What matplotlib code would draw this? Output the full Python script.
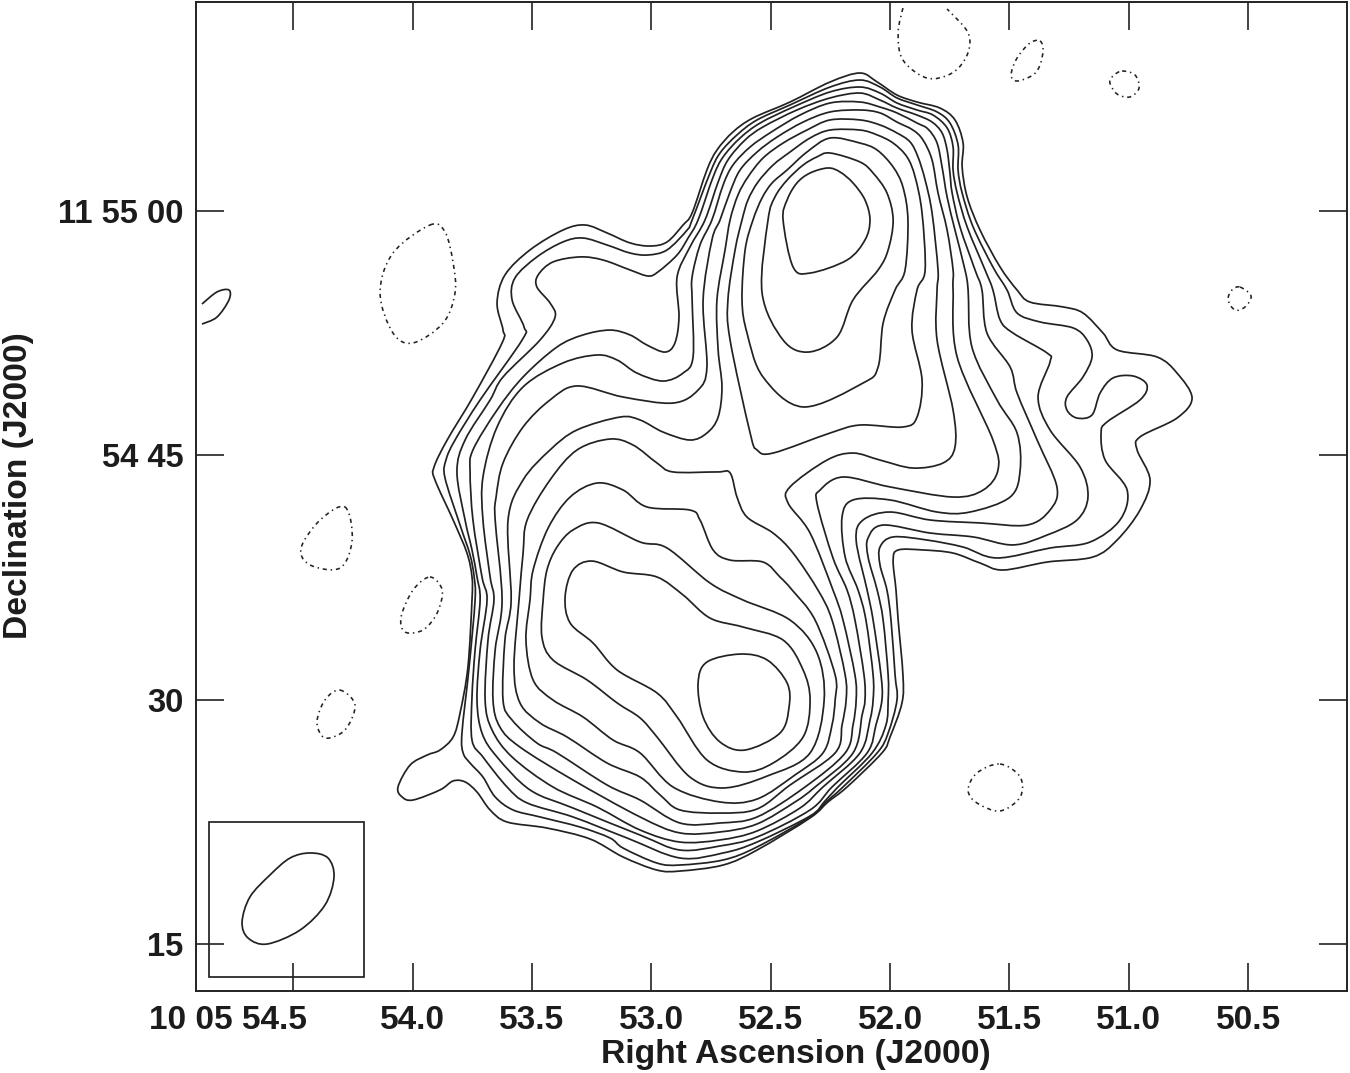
from __future__ import annotations

import matplotlib

matplotlib.use("Agg")
import matplotlib.pyplot as plt
import numpy as np
from matplotlib.patches import PathPatch, Rectangle
from matplotlib.path import Path
from matplotlib.transforms import ScaledTranslation

# contour vertices: (RA seconds after 10 05, Dec arcsec after 11 54)
CONTOUR_01 = [(54.061, 24.64), (54.010, 25.99), (53.939, 26.60), (53.885, 26.91), (53.830, 27.71), (53.801, 29.18), (53.768, 32.01), (53.751, 36.12), (53.751, 37.53), (53.772, 39.00), (53.830, 41.03), (53.906, 43.49), (53.910, 44.28), (53.855, 45.94), (53.747, 48.58), (53.625, 51.90), (53.621, 52.69), (53.646, 54.35), (53.613, 56.07), (53.508, 57.61), (53.370, 58.83), (53.277, 59.14), (53.185, 58.65), (53.089, 58.04), (53.005, 57.85), (52.934, 58.10), (52.867, 59.14), (52.829, 59.88), (52.767, 62.52), (52.725, 63.74), (52.658, 64.85), (52.574, 65.71), (52.419, 66.69), (52.251, 67.92), (52.126, 68.47), (52.054, 67.92), (51.971, 67.12), (51.887, 66.69), (51.791, 66.32), (51.728, 65.59), (51.694, 64.17), (51.698, 62.70), (51.677, 60.86), (51.623, 58.83), (51.539, 56.56), (51.468, 55.15), (51.414, 54.41), (51.275, 54.11), (51.192, 53.74), (51.108, 52.51), (51.049, 51.47), (50.882, 51.04), (50.798, 50.05), (50.735, 48.52), (50.798, 47.29), (50.953, 46.13), (50.965, 45.33), (50.911, 43.49), (50.953, 41.64), (51.049, 39.80), (51.150, 38.76), (51.342, 38.45), (51.527, 37.96), (51.623, 38.39), (51.736, 39.00), (51.862, 39.19), (51.966, 39.19), (51.987, 38.57), (51.975, 36.73), (51.966, 34.89), (51.946, 31.52), (51.950, 29.80), (52.000, 27.71), (52.034, 26.73), (52.180, 24.64), (52.260, 23.72), (52.335, 22.74), (52.557, 20.77), (52.699, 19.85), (52.880, 19.48), (52.976, 19.54), (53.118, 20.34), (53.257, 21.45), (53.437, 22.12), (53.604, 22.49), (53.675, 23.23), (53.730, 24.33), (53.780, 24.95), (53.830, 25.01), (53.885, 24.46), (53.998, 23.84), (54.044, 24.03)]
CONTOUR_02 = [(53.738, 36.12), (53.742, 37.53), (53.759, 38.88), (53.801, 40.72), (53.864, 43.61), (53.860, 44.71), (53.822, 45.94), (53.717, 48.40), (53.541, 52.08), (53.533, 52.88), (53.583, 54.54), (53.571, 55.89), (53.479, 57.18), (53.370, 58.10), (53.286, 58.34), (53.185, 57.91), (53.089, 57.42), (53.014, 57.30), (52.934, 57.61), (52.850, 58.83), (52.829, 59.45), (52.754, 62.33), (52.712, 63.56), (52.641, 64.67), (52.557, 65.59), (52.419, 66.51), (52.251, 67.61), (52.126, 68.04), (52.042, 67.61), (51.971, 66.94), (51.887, 66.51), (51.803, 66.08), (51.749, 65.40), (51.715, 64.05), (51.715, 62.52), (51.698, 61.11), (51.652, 59.02), (51.569, 56.56), (51.510, 55.15), (51.468, 53.74), (51.372, 53.19), (51.233, 52.82), (51.175, 52.08), (51.154, 51.04), (51.192, 49.81), (51.259, 48.58), (51.259, 47.78), (51.217, 47.29), (51.154, 47.48), (51.120, 48.83), (51.066, 49.75), (50.982, 49.87), (50.924, 49.32), (50.953, 48.40), (51.091, 47.05), (51.116, 46.37), (51.099, 44.71), (51.007, 42.87), (51.037, 41.03), (51.162, 39.68), (51.330, 39.31), (51.552, 38.70), (51.694, 39.37), (51.845, 39.80), (51.987, 39.99), (52.042, 39.37), (52.042, 38.27), (52.013, 36.73), (51.996, 34.89), (51.979, 31.52), (51.971, 29.98), (52.008, 27.95), (52.054, 26.73), (52.197, 24.64), (52.268, 23.72), (52.335, 22.80), (52.557, 20.96), (52.699, 20.16), (52.880, 19.85), (52.976, 19.97), (53.118, 20.89), (53.173, 21.51), (53.298, 22.18), (53.466, 22.80), (53.579, 23.23), (53.654, 24.03), (53.705, 25.25), (53.759, 26.11), (53.788, 26.73), (53.793, 27.95), (53.763, 32.01)]
CONTOUR_03 = [(53.717, 36.12), (53.730, 37.53), (53.751, 39.19), (53.780, 41.03), (53.814, 43.98), (53.780, 45.94), (53.675, 48.40), (53.621, 49.81), (53.466, 52.08), (53.403, 53.49), (53.424, 54.35), (53.479, 55.33), (53.474, 56.07), (53.412, 56.87), (53.298, 57.18), (53.202, 56.99), (53.089, 56.38), (53.014, 56.01), (52.972, 56.26), (52.892, 57.30), (52.846, 58.34), (52.804, 59.45), (52.741, 62.09), (52.699, 63.32), (52.628, 64.48), (52.544, 65.40), (52.406, 66.38), (52.251, 67.31), (52.126, 67.61), (52.042, 67.24), (51.971, 66.63), (51.887, 66.20), (51.820, 65.89), (51.761, 65.10), (51.736, 63.93), (51.736, 62.52), (51.719, 61.11), (51.677, 59.02), (51.602, 56.38), (51.569, 55.15), (51.539, 53.31), (51.485, 52.51), (51.342, 51.28), (51.330, 50.73), (51.380, 48.58), (51.330, 46.56), (51.204, 44.28), (51.171, 42.44), (51.217, 41.03), (51.342, 40.11), (51.485, 39.50), (51.652, 39.99), (51.832, 40.23), (52.029, 40.72), (52.092, 39.93), (52.092, 38.76), (52.054, 36.73), (52.029, 34.89), (52.008, 31.52), (52.008, 29.98), (52.017, 28.45), (52.075, 26.73), (52.218, 24.64), (52.276, 23.72), (52.335, 22.86), (52.557, 21.26), (52.699, 20.59), (52.880, 20.28), (53.102, 21.51), (53.328, 22.80), (53.520, 23.66), (53.604, 24.64), (53.705, 26.48), (53.751, 27.52), (53.751, 30.16), (53.738, 33.05)]
CONTOUR_04 = [(53.688, 36.12), (53.709, 37.53), (53.747, 41.03), (53.759, 43.98), (53.747, 45.33), (53.646, 47.78), (53.537, 49.81), (53.395, 51.65), (53.286, 52.39), (53.173, 52.69), (53.089, 52.39), (53.018, 51.77), (52.942, 51.34), (52.901, 51.90), (52.884, 53.49), (52.892, 55.95), (52.838, 57.79), (52.775, 59.45), (52.720, 61.78), (52.679, 63.13), (52.607, 64.36), (52.532, 65.16), (52.390, 66.20), (52.251, 66.94), (52.126, 67.24), (52.042, 66.81), (51.971, 66.32), (51.887, 65.89), (51.824, 65.46), (51.782, 64.79), (51.761, 63.74), (51.749, 62.33), (51.740, 61.11), (51.707, 59.02), (51.644, 56.38), (51.615, 55.15), (51.594, 52.51), (51.497, 50.42), (51.468, 48.83), (51.384, 45.94), (51.301, 43.06), (51.330, 41.64), (51.426, 40.72), (51.623, 40.85), (51.832, 41.03), (52.000, 41.52), (52.113, 41.03), (52.142, 39.80), (52.096, 36.73), (52.071, 34.89), (52.038, 31.52), (52.034, 29.98), (52.059, 28.45), (52.096, 26.73), (52.243, 24.64), (52.335, 23.23), (52.557, 21.57), (52.712, 21.02), (52.880, 20.77), (53.047, 21.69), (53.328, 23.35), (53.508, 24.46), (53.646, 26.48), (53.709, 27.95), (53.730, 29.98), (53.717, 33.05)]
CONTOUR_05 = [(53.659, 36.12), (53.675, 37.53), (53.705, 41.03), (53.705, 43.67), (53.646, 46.74), (53.537, 49.20), (53.370, 50.67), (53.227, 51.16), (53.143, 50.85), (53.060, 50.05), (52.951, 49.56), (52.867, 50.05), (52.825, 51.04), (52.829, 54.54), (52.829, 55.95), (52.796, 57.91), (52.746, 59.45), (52.699, 61.60), (52.658, 62.82), (52.586, 63.93), (52.497, 64.85), (52.377, 65.89), (52.251, 66.63), (52.126, 66.69), (52.042, 66.38), (51.971, 66.02), (51.887, 65.40), (51.841, 65.03), (51.803, 64.17), (51.782, 62.70), (51.761, 60.86), (51.728, 58.83), (51.686, 56.38), (51.673, 55.15), (51.657, 51.65), (51.552, 48.40), (51.468, 46.37), (51.455, 44.10), (51.497, 42.44), (51.665, 41.52), (51.803, 41.52), (52.000, 42.26), (52.155, 42.26), (52.201, 41.21), (52.188, 38.76), (52.134, 36.73), (52.101, 34.89), (52.071, 31.52), (52.071, 29.98), (52.084, 28.75), (52.126, 26.73), (52.281, 24.64), (52.377, 23.35), (52.557, 21.94), (52.712, 21.39), (52.880, 21.26), (53.047, 22.00), (53.227, 23.41), (53.412, 24.64), (53.583, 26.48), (53.667, 28.14), (53.696, 29.98), (53.684, 33.66)]
CONTOUR_06 = [(53.625, 36.12), (53.654, 41.03), (53.650, 42.44), (53.621, 44.53), (53.537, 46.74), (53.424, 48.40), (53.311, 49.26), (53.118, 48.58), (52.909, 48.21), (52.804, 49.01), (52.767, 50.42), (52.783, 54.54), (52.746, 58.22), (52.712, 59.45), (52.670, 61.17), (52.628, 62.52), (52.557, 63.62), (52.473, 64.54), (52.364, 65.46), (52.251, 66.08), (52.126, 66.20), (52.042, 66.02), (51.971, 65.46), (51.904, 64.97), (51.862, 64.36), (51.824, 63.13), (51.799, 61.11), (51.761, 58.83), (51.736, 56.38), (51.736, 55.15), (51.719, 51.04), (51.569, 45.94), (51.548, 44.10), (51.610, 42.87), (51.736, 42.44), (52.000, 43.06), (52.197, 43.67), (52.293, 42.87), (52.306, 42.07), (52.239, 38.70), (52.180, 36.73), (52.147, 34.89), (52.109, 31.52), (52.105, 29.98), (52.117, 29.06), (52.155, 26.73), (52.314, 24.64), (52.398, 23.72), (52.557, 22.37), (52.712, 21.88), (52.880, 21.82), (53.047, 22.80), (53.328, 25.07), (53.550, 27.09), (53.634, 28.32), (53.663, 29.98), (53.654, 33.05)]
CONTOUR_07 = [(53.587, 36.12), (53.600, 41.03), (53.537, 43.49), (53.424, 45.33), (53.311, 46.56), (53.131, 47.35), (53.047, 47.17), (52.951, 46.43), (52.838, 45.94), (52.767, 46.37), (52.720, 47.35), (52.704, 49.20), (52.720, 51.47), (52.725, 54.54), (52.691, 57.61), (52.670, 59.45), (52.637, 60.98), (52.595, 62.09), (52.532, 63.25), (52.448, 64.17), (52.348, 64.97), (52.251, 65.59), (52.126, 65.59), (52.042, 65.28), (51.971, 64.79), (51.916, 64.24), (51.883, 63.32), (51.853, 61.90), (51.824, 59.88), (51.799, 56.38), (51.803, 55.15), (51.803, 52.08), (51.736, 47.78), (51.728, 45.51), (51.778, 44.53), (51.904, 44.22), (52.042, 44.71), (52.155, 45.14), (52.264, 44.71), (52.419, 43.06), (52.427, 42.07), (52.335, 40.23), (52.239, 36.73), (52.197, 34.89), (52.147, 31.52), (52.142, 29.98), (52.155, 28.45), (52.188, 26.73), (52.356, 24.64), (52.557, 22.80), (52.712, 22.43), (52.880, 22.43), (53.047, 23.84), (53.185, 24.76), (53.395, 26.73), (53.479, 27.34), (53.583, 28.75), (53.621, 29.98), (53.613, 33.66)]
CONTOUR_08_NORTH = [(52.679, 54.54), (52.649, 57.61), (52.620, 59.45), (52.595, 60.68), (52.553, 61.78), (52.490, 62.82), (52.419, 63.62), (52.335, 64.48), (52.251, 64.97), (52.126, 64.97), (52.054, 64.67), (51.987, 64.17), (51.929, 63.32), (51.895, 62.09), (51.866, 59.88), (51.853, 56.38), (51.887, 55.15), (51.908, 52.69), (51.866, 49.63), (51.887, 47.35), (51.946, 46.74), (52.126, 46.86), (52.251, 46.37), (52.490, 45.14), (52.557, 45.33), (52.586, 46.37), (52.670, 52.08)]
CONTOUR_08_SOUTH = [(53.554, 36.12), (53.537, 39.00), (53.520, 41.03), (53.424, 43.49), (53.311, 45.33), (53.173, 46.00), (53.076, 45.63), (52.976, 44.53), (52.909, 43.98), (52.725, 43.98), (52.670, 43.92), (52.641, 42.44), (52.599, 41.21), (52.490, 40.23), (52.406, 39.00), (52.302, 36.73), (52.243, 34.89), (52.188, 31.52), (52.184, 29.98), (52.201, 28.45), (52.230, 26.73), (52.419, 24.76), (52.557, 23.29), (52.712, 23.04), (52.880, 23.23), (52.963, 24.15), (53.047, 25.25), (53.185, 26.11), (53.353, 27.71), (53.466, 28.57), (53.550, 29.80), (53.575, 32.01)]
CONTOUR_09_NORTH = [(52.620, 54.54), (52.607, 57.61), (52.574, 59.45), (52.536, 60.80), (52.494, 61.72), (52.431, 62.52), (52.348, 63.62), (52.251, 64.48), (52.126, 64.17), (52.054, 63.74), (51.987, 62.70), (51.946, 61.47), (51.925, 59.45), (51.937, 56.38), (51.979, 55.15), (52.029, 53.12), (52.050, 50.42), (52.113, 49.44), (52.364, 47.97), (52.532, 49.81), (52.599, 52.51)]
CONTOUR_09_SOUTH = [(53.508, 36.12), (53.495, 37.96), (53.432, 40.54), (53.340, 42.44), (53.227, 43.30), (53.118, 42.87), (53.018, 41.83), (52.838, 41.64), (52.796, 41.03), (52.741, 39.19), (52.670, 38.57), (52.532, 38.45), (52.461, 37.53), (52.410, 36.73), (52.314, 34.89), (52.230, 31.52), (52.230, 29.98), (52.243, 28.45), (52.281, 26.73), (52.398, 25.38), (52.557, 23.90), (52.712, 23.72), (52.909, 24.64), (53.047, 26.73), (53.160, 27.52), (53.286, 28.94), (53.412, 29.98), (53.495, 31.21), (53.525, 33.66)]
CONTOUR_10_NORTH = [(52.251, 63.56), (52.126, 63.01), (52.071, 62.33), (52.013, 61.11), (51.987, 59.45), (52.008, 57.61), (52.050, 56.38), (52.155, 54.54), (52.222, 52.26), (52.343, 51.34), (52.448, 52.08), (52.536, 54.97), (52.511, 59.45), (52.482, 60.86), (52.431, 61.90), (52.364, 62.82), (52.306, 63.32)]
CONTOUR_10_SOUTH = [(53.453, 36.12), (53.437, 37.96), (53.395, 39.37), (53.328, 40.42), (53.223, 40.85), (53.047, 39.68), (52.934, 39.31), (52.754, 37.16), (52.616, 36.12), (52.419, 34.89), (52.306, 32.87), (52.276, 29.98), (52.335, 26.73), (52.515, 25.31), (52.699, 24.58), (52.838, 25.25), (52.976, 27.71), (53.047, 28.88), (53.143, 29.80), (53.269, 31.21), (53.412, 32.44), (53.458, 33.85)]
CONTOUR_11_NORTH = [(52.260, 62.64), (52.209, 62.39), (52.155, 61.72), (52.105, 60.68), (52.084, 59.45), (52.105, 58.22), (52.180, 56.99), (52.335, 56.19), (52.406, 56.56), (52.448, 59.45), (52.431, 60.68), (52.390, 61.72), (52.335, 62.33)]
CONTOUR_11_SOUTH = [(53.248, 38.51), (53.118, 37.84), (52.976, 37.53), (52.867, 36.43), (52.754, 35.01), (52.616, 34.46), (52.448, 33.66), (52.364, 31.82), (52.335, 29.98), (52.364, 27.71), (52.490, 26.11), (52.616, 25.56), (52.767, 26.30), (52.892, 28.94), (52.976, 30.41), (53.143, 31.82), (53.244, 33.48), (53.340, 34.71), (53.361, 36.30), (53.328, 37.96)]
CONTOUR_12 = [(52.628, 32.80), (52.515, 32.44), (52.431, 31.02), (52.423, 29.55), (52.461, 27.95), (52.607, 26.91), (52.712, 27.40), (52.783, 28.94), (52.804, 31.02), (52.767, 32.31)]

NEGATIVE_A = [(53.927, 59.14), (53.864, 58.71), (53.830, 56.81), (53.822, 54.97), (53.872, 53.12), (53.998, 51.90), (54.082, 52.51), (54.136, 54.97), (54.082, 57.42)]
NEGATIVE_B = [(54.283, 41.83), (54.253, 39.80), (54.304, 38.08), (54.429, 38.27), (54.467, 39.31), (54.387, 41.03)]
NEGATIVE_C = [(53.927, 37.53), (53.876, 36.73), (53.897, 35.32), (53.956, 34.28), (54.031, 34.15), (54.048, 35.08), (53.998, 36.73)]
NEGATIVE_D = [(54.304, 30.59), (54.241, 29.67), (54.283, 28.14), (54.367, 27.65), (54.400, 28.63), (54.367, 29.98)]
NEGATIVE_E = [(51.539, 26.05), (51.455, 25.25), (51.455, 24.03), (51.539, 23.17), (51.636, 23.66), (51.673, 24.45), (51.636, 25.50)]
NEGATIVE_F = [(51.372, 70.44), (51.359, 69.88), (51.372, 68.96), (51.401, 68.35), (51.468, 67.98), (51.493, 68.35), (51.468, 69.39), (51.414, 70.31)]
NEGATIVE_G = [(51.028, 68.59), (50.974, 68.35), (50.957, 67.55), (50.995, 67.00), (51.049, 67.18), (51.079, 67.86), (51.066, 68.29)]
NEGATIVE_H = [(50.534, 55.33), (50.488, 54.78), (50.513, 54.11), (50.555, 53.92), (50.584, 54.54), (50.568, 55.15)]
NEGATIVE_TOP_OPEN = [(51.946, 72.46), (51.966, 70.93), (51.946, 69.27), (51.845, 68.16), (51.740, 68.47), (51.677, 69.58), (51.673, 70.93), (51.761, 72.40)]
POSITIVE_EDGE_OPEN = [(54.882, 54.29), (54.819, 55.03), (54.769, 55.15), (54.769, 54.54), (54.819, 53.49), (54.882, 53.06)]
BEAM = [(54.429, 20.59), (54.354, 20.28), (54.329, 19.11), (54.367, 17.39), (54.471, 15.86), (54.609, 15.00), (54.689, 15.37), (54.714, 16.35), (54.681, 17.89), (54.597, 19.24), (54.513, 20.28)]
BEAM_BOX_RA = [54.852, 54.203]
BEAM_BOX_DEC = [12.98, 22.49]

RA_TICKS = [54.5, 54.0, 53.5, 53.0, 52.5, 52.0, 51.5, 51.0, 50.5]
RA_LABELS = ["10 05 54.5", "54.0", "53.5", "53.0", "52.5", "52.0", "51.5", "51.0", "50.5"]
DEC_TICKS = [60, 45, 30, 15]
DEC_LABELS = ["11 55 00", "54 45", "30", "15"]

POSITIVE = [
    CONTOUR_01, CONTOUR_02, CONTOUR_03, CONTOUR_04, CONTOUR_05, CONTOUR_06, CONTOUR_07,
    CONTOUR_08_NORTH, CONTOUR_08_SOUTH, CONTOUR_09_NORTH, CONTOUR_09_SOUTH,
    CONTOUR_10_NORTH, CONTOUR_10_SOUTH, CONTOUR_11_NORTH, CONTOUR_11_SOUTH, CONTOUR_12,
]
NEGATIVE = [
    NEGATIVE_A, NEGATIVE_B, NEGATIVE_C, NEGATIVE_D, NEGATIVE_E, NEGATIVE_F, NEGATIVE_G, NEGATIVE_H,
]

INK = "#222222"


def smooth_path(points: list[tuple[float, float]], closed: bool = True) -> Path:
    # cubic segments passing through the read vertices (Catmull-Rom handles)
    pts = np.asarray(points, dtype=float)
    n = len(pts)
    count = n if closed else n - 1
    verts = [pts[0]]
    codes = [Path.MOVETO]
    for i in range(count):
        if closed:
            before, start, end, after = pts[i - 1], pts[i], pts[(i + 1) % n], pts[(i + 2) % n]
        else:
            before, start = pts[max(i - 1, 0)], pts[i]
            end, after = pts[i + 1], pts[min(i + 2, n - 1)]
        verts += [start + (end - before) / 6, end - (after - start) / 6, end]
        codes += [Path.CURVE4, Path.CURVE4, Path.CURVE4]
    return Path(verts, codes)


def draw_line(ax, points, closed=True, **style) -> None:
    ax.add_patch(PathPatch(smooth_path(points, closed), fill=False, edgecolor=INK, **style))


plt.rcParams["font.family"] = ["Liberation Sans", "DejaVu Sans"]
plt.rcParams["font.weight"] = "bold"

fig = plt.figure(figsize=(13.5, 10.73), dpi=100)
ax = fig.add_axes([196 / 1350, 82 / 1073, 1151 / 1350, 989 / 1073])
ax.set_xlim(54.907, 50.086)
ax.set_ylim(12.116, 72.83)

for contour in POSITIVE:
    draw_line(ax, contour, linewidth=1.25)
draw_line(ax, POSITIVE_EDGE_OPEN, closed=False, linewidth=1.25)
draw_line(ax, BEAM, linewidth=1.25)

dash_dot = (0, (2.6, 2.4, 0.9, 2.4))
for contour in NEGATIVE:
    draw_line(ax, contour, linewidth=1.15, linestyle=dash_dot)
draw_line(ax, NEGATIVE_TOP_OPEN, closed=False, linewidth=1.15, linestyle=dash_dot)

ax.add_patch(
    Rectangle(
        (BEAM_BOX_RA[0], BEAM_BOX_DEC[0]),
        BEAM_BOX_RA[1] - BEAM_BOX_RA[0],
        BEAM_BOX_DEC[1] - BEAM_BOX_DEC[0],
        fill=False,
        edgecolor=INK,
        linewidth=1.25,
    )
)

ax.set_xticks(RA_TICKS, RA_LABELS)
ax.set_yticks(DEC_TICKS, DEC_LABELS)
ax.tick_params(
    axis="both", direction="in", top=True, right=True, length=20, width=1.2,
    color=INK, labelsize=23.6, labelcolor="#1c1c1c",
)
ax.tick_params(axis="x", pad=10, labelsize=24)
ax.tick_params(axis="y", pad=9)
for spine in ax.spines.values():
    spine.set_linewidth(1.4)
    spine.set_color(INK)

first = ax.get_xticklabels()[0]
first.set_horizontalalignment("right")
first.set_transform(first.get_transform() + ScaledTranslation(14 / 100, 0, fig.dpi_scale_trans))

ax.set_xlabel("Right Ascension (J2000)", fontsize=24.2, fontweight="bold", color="#1c1c1c", va="center")
ax.set_ylabel("Declination (J2000)", fontsize=24.2, fontweight="bold", color="#1c1c1c", va="center")
ax.xaxis.set_label_coords((796 - 196) / 1151, -(1054 - 991) / 989)
ax.yaxis.set_label_coords((19 - 196) / 1151, (991 - 486) / 989)

fig.savefig("out.png", dpi=100)
plt.close(fig)
